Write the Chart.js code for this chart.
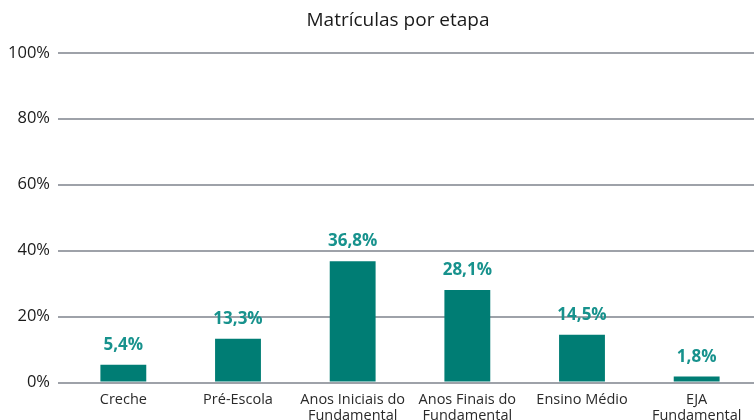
<!DOCTYPE html>
<html>
<head>
<meta charset="utf-8">
<script src="https://cdn.jsdelivr.net/npm/chart.js@4/dist/chart.umd.min.js"></script>
<style>
  html, body { margin: 0; padding: 0; background: #fff; overflow: hidden; }
  #wrap { width: 754px; height: 429px; }
</style>
</head>
<body>
<div id="wrap"><canvas id="chart"></canvas></div>
<script>
const categories = [
    'Creche',
    'Pré-Escola',
    ['Anos Iniciais do', 'Fundamental'],
    ['Anos Finais do', 'Fundamental'],
    'Ensino Médio',
    ['EJA', 'Fundamental']
];
const shares = [5.4, 13.3, 36.8, 28.1, 14.5, 1.8];
const yTicks = [0, 20, 40, 60, 80, 100];

const FONT = "'Open Sans', sans-serif";

// value labels above bars (no datalabels plugin offline)
const barLabels = {
    id: 'barLabels',
    afterDatasetsDraw(chart) {
        const ctx = chart.ctx;
        const meta = chart.getDatasetMeta(0);
        ctx.save();
        ctx.font = "bold 17px " + FONT;
        ctx.fillStyle = '#17928d';
        ctx.textAlign = 'center';
        ctx.textBaseline = 'alphabetic';
        meta.data.forEach((bar, i) => {
            const txt = shares[i].toFixed(1).replace('.', ',') + '%';
            ctx.fillText(txt, bar.x, bar.y - 15);
        });
        ctx.restore();
    }
};

// title in the original sits a bit right of the canvas centre
const titleShift = {
    id: 'titleShift',
    afterLayout(chart) {
        chart.titleBlock.left = 42;
    }
};

new Chart(document.getElementById('chart'), {
    type: 'bar',
    data: {
        labels: categories,
        datasets: [{
            data: shares,
            backgroundColor: '#007d74',
            barPercentage: 0.4,
            categoryPercentage: 1
        }]
    },
    options: {
        responsive: true,
        maintainAspectRatio: false,
        animation: false,
        layout: { padding: { left: 0, right: 0, top: 0, bottom: 4 } },
        plugins: {
            legend: { display: false },
            tooltip: { enabled: false },
            title: {
                display: true,
                text: 'Matrículas por etapa',
                color: '#1a1a1a',
                font: { family: FONT, size: 19, weight: 'normal' },
                padding: { top: 9, bottom: 21 }
            }
        },
        scales: {
            x: {
                grid: { display: false },
                border: { display: false },
                ticks: {
                    color: '#2a2a2a',
                    font: { family: FONT, size: 14.5, lineHeight: 1.05 },
                    padding: 2,
                    maxRotation: 0,
                    autoSkip: false
                }
            },
            y: {
                min: 0,
                max: 100,
                afterFit(scale) { scale.width = 66; },
                afterBuildTicks(scale) { scale.ticks = yTicks.map(v => ({ value: v })); },
                border: { display: false },
                grid: {
                    color: '#9ea2a9',
                    lineWidth: 2,
                    tickLength: 8
                },
                ticks: {
                    color: '#1a1a1a',
                    font: { family: FONT, size: 16.5 },
                    padding: 8,
                    callback: v => v + '%'
                }
            }
        }
    },
    plugins: [barLabels, titleShift]
});
</script>
</body>
</html>
